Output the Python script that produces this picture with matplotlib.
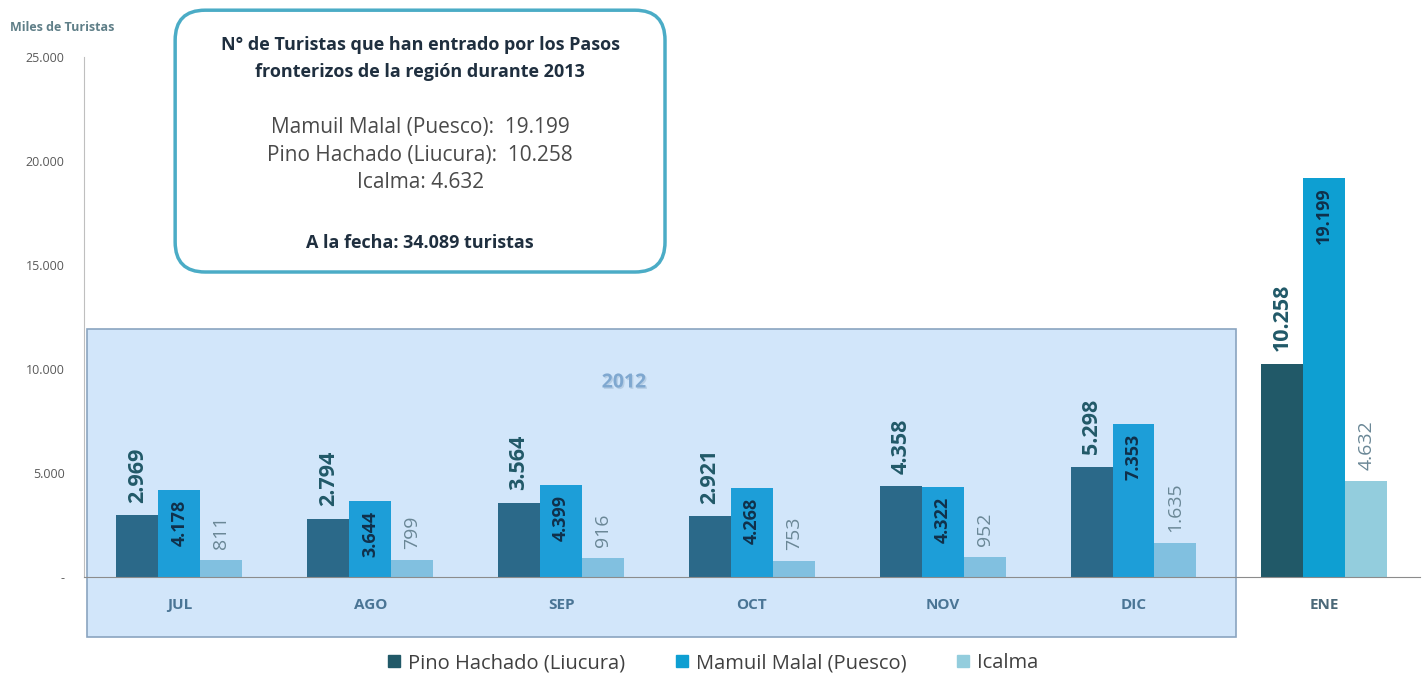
import matplotlib
matplotlib.use("Agg")
import matplotlib.pyplot as plt
import matplotlib.patheffects as pe
from matplotlib.patches import Rectangle, FancyBboxPatch
from matplotlib.lines import Line2D
import numpy as np

plt.rcParams['font.family'] = ['Open Sans', 'DejaVu Sans']

meses = ["JUL", "AGO", "SEP", "OCT", "NOV", "DIC", "ENE"]
pino = [2969, 2794, 3564, 2921, 4358, 5298, 10258]
mamuil = [4178, 3644, 4399, 4268, 4322, 7353, 19199]
icalma = [811, 799, 916, 753, 952, 1635, 4632]
series = ["Pino Hachado (Liucura)", "Mamuil Malal (Puesco)", "Icalma"]
yticks = [0, 5000, 10000, 15000, 20000, 25000]

c_dark = "#215968"
c_mid = "#0E9FD2"
c_light = "#93CDDD"


def fmt(v):
    return "{:,}".format(v).replace(",", ".")


fig = plt.figure(figsize=(14.24, 6.8), dpi=100)
ax = fig.add_axes([0.059, 0.1515, 0.938, 0.7647])

x = np.arange(len(meses))
w = 0.22
ax.bar(x - w, pino, w, color=c_dark, zorder=2)
ax.bar(x, mamuil, w, color=c_mid, zorder=2)
ax.bar(x + w, icalma, w, color=c_light, zorder=2)

ax.set_xlim(-0.5, 6.5)
ax.set_ylim(0, 25000)
ax.set_yticks(yticks)
ax.set_yticklabels(["-" if t == 0 else fmt(t) for t in yticks], fontsize=9, color="#595959")
ax.set_xticks(x)
ax.set_xticklabels(meses, fontsize=11, fontweight="bold", color="#4A6878")
ax.tick_params(axis="y", length=0, pad=14)
ax.tick_params(axis="x", length=0, pad=15)
for s in ["top", "right"]:
    ax.spines[s].set_visible(False)
ax.spines["left"].set_color("#BFBFBF")
ax.spines["bottom"].set_color("#8C8C8C")
ax.spines["left"].set_zorder(5)
ax.spines["bottom"].set_zorder(5)

# caja 2012 (transparente por encima de las barras)
ax.add_patch(Rectangle((-0.484, -2900), 6.02, 14800, facecolor="#4C9CEC", alpha=0.25,
                       edgecolor="none", clip_on=False, zorder=3))
ax.add_patch(Rectangle((-0.484, -2900), 6.02, 14800, facecolor="none",
                       edgecolor="#8AA4C0", lw=1.2, clip_on=False, zorder=3))
ax.text(2.33, 9350, "2012", ha="center", va="center", fontsize=14, fontweight="bold",
        color="#7FA8D0", zorder=6,
        path_effects=[pe.withSimplePatchShadow(offset=(1, -1), shadow_rgbFace="#B0C8E0", alpha=0.8)])

for i in range(len(meses)):
    ax.annotate(fmt(pino[i]), (x[i] - w, pino[i]), xytext=(0, 9), textcoords="offset points",
                rotation=90, ha="center", va="bottom", fontsize=15.5, fontweight="bold",
                color=c_dark, zorder=6)
    ax.annotate(fmt(mamuil[i]), (x[i], mamuil[i]), xytext=(0, -7), textcoords="offset points",
                rotation=90, ha="center", va="top", fontsize=13, fontweight="bold",
                color="#10304A", zorder=6)
    ax.annotate(fmt(icalma[i]), (x[i] + w, icalma[i]), xytext=(0, 8), textcoords="offset points",
                rotation=90, ha="center", va="bottom", fontsize=14,
                color="#6A8796", zorder=6)

fig.text(0.007, 0.955, "Miles de Turistas", fontsize=9, fontweight="bold", color="#5F7F88")

# recuadro resumen 2013
box = FancyBboxPatch((0.123, 0.6), 0.344, 0.385, transform=fig.transFigure,
                     boxstyle="round,pad=0,rounding_size=0.021", mutation_aspect=2.1,
                     facecolor="white", edgecolor="#4BACC6", lw=2.5)
fig.patches.append(box)
cx = 0.295
fig.text(cx, 1 - 45 / 680, "N° de Turistas que han entrado por los Pasos", ha="center", va="center",
         fontsize=13, fontweight="bold", color="#1F2F3F")
fig.text(cx, 1 - 72 / 680, "fronterizos de la región durante 2013", ha="center", va="center",
         fontsize=13, fontweight="bold", color="#1F2F3F")
fig.text(cx, 1 - 127 / 680, "Mamuil Malal (Puesco):  19.199", ha="center", va="center",
         fontsize=15, color="#4A4A4A")
fig.text(cx, 1 - 155 / 680, "Pino Hachado (Liucura):  10.258", ha="center", va="center",
         fontsize=15, color="#4A4A4A")
fig.text(cx, 1 - 183 / 680, "Icalma: 4.632", ha="center", va="center",
         fontsize=15, color="#4A4A4A")
fig.text(cx, 1 - 243 / 680, "A la fecha: 34.089 turistas", ha="center", va="center",
         fontsize=13, fontweight="bold", color="#1F2F3F")

handles = [Line2D([], [], marker="s", ls="none", markersize=9, color=c) for c in [c_dark, c_mid, c_light]]
fig.legend(handles, series, loc="center", bbox_to_anchor=(0.5, 0.025), ncol=3, frameon=False,
           fontsize=14.5, handlelength=0.8, handletextpad=0.3, columnspacing=2.4,
           labelcolor="#404040")

fig.savefig("out.png", dpi=100)
